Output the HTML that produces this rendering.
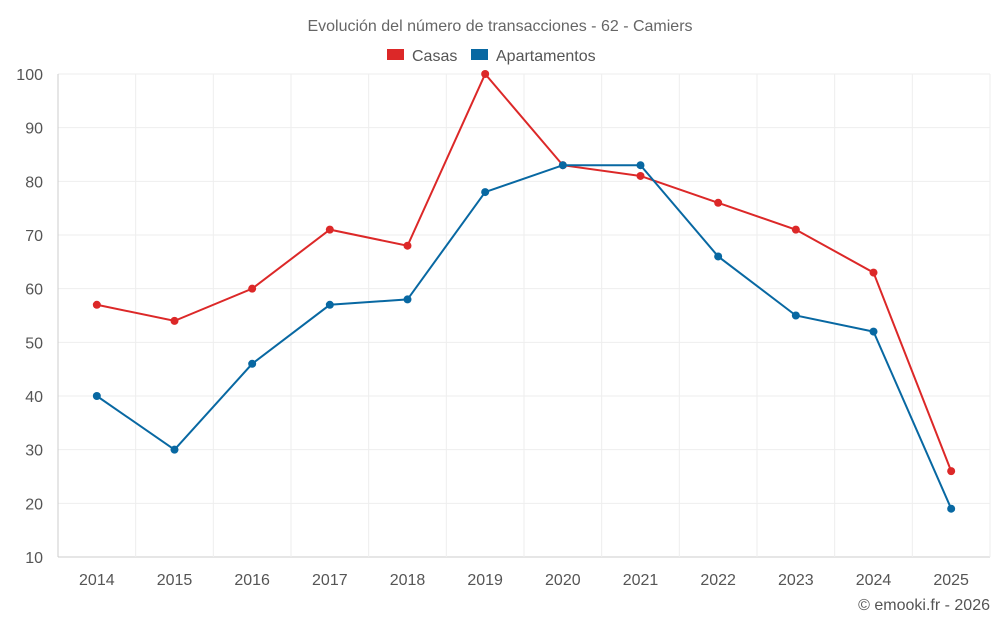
<!DOCTYPE html>
<html><head><meta charset="utf-8"><style>
body{margin:0;background:#fff;}
svg{display:block;font-family:"Liberation Sans",sans-serif;}
</style></head><body>
<svg id="chart" width="1000" height="625">
<text x="500" y="31" text-anchor="middle" font-size="16" fill="#666">Evolución del número de transacciones - 62 - Camiers</text>
<g>
<g><rect x="387" y="49" width="17" height="11" fill="#dc2828"/><text x="412" y="61" font-size="16" fill="#555">Casas</text></g>
<g><rect x="471" y="49" width="17" height="11" fill="#0868a2"/><text x="496" y="61" font-size="16" fill="#555">Apartamentos</text></g>
</g>
<g id="grid"></g><g id="axes"></g><g id="series"></g>
<text x="990" y="610" text-anchor="end" font-size="16" fill="#555">© emooki.fr - 2026</text>
</svg>
<script>
const categories=["2014","2015","2016","2017","2018","2019","2020","2021","2022","2023","2024","2025"];
const casas=[57,54,60,71,68,100,83,81,76,71,63,26];
const apartamentos=[40,30,46,57,58,78,83,83,66,55,52,19];
const yTicks=[10,20,30,40,50,60,70,80,90,100];
const NS="http://www.w3.org/2000/svg";
const L=58,R=990,T=74,B=557,yMin=10,yMax=100;
const bw=(R-L)/categories.length;
const x=i=>L+bw*(i+0.5);
const y=v=>B-(v-yMin)/(yMax-yMin)*(B-T);
function mk(tag,attrs,parent){const e=document.createElementNS(NS,tag);for(const k in attrs)e.setAttribute(k,attrs[k]);parent.appendChild(e);return e;}
const grid=document.getElementById('grid'),axes=document.getElementById('axes'),series=document.getElementById('series');
yTicks.forEach(t=>{
 const l=mk('line',{x1:L,x2:R,y1:y(t),y2:y(t),stroke:t===yMin?'#ccc':'#eee'},grid);
 
 
 const tx=mk('text',{x:L-15,y:y(t)+6,'text-anchor':'end','font-size':16,fill:'#555'},axes);
 tx.textContent=t;
 
 
});
for(let i=0;i<=categories.length;i++){
 const l=mk('line',{x1:L+bw*i,x2:L+bw*i,y1:T,y2:B,stroke:'#eee'},grid);
 
 
}
const yaxis=mk('line',{x1:L,x2:L,y1:T,y2:B,stroke:'#ccc'},axes);


categories.forEach((c,i)=>{
 const tx=mk('text',{x:x(i),y:585,'text-anchor':'middle','font-size':16,fill:'#555'},axes);
 tx.textContent=c;
 
 
});
function draw(vals,color,name){
 const p=mk('polyline',{points:vals.map((v,i)=>x(i)+','+y(v)).join(' '),fill:'none',stroke:color,'stroke-width':2},series);
 
 
 vals.forEach((v,i)=>{
  const c=mk('circle',{cx:x(i),cy:y(v),r:4,fill:color},series);
  
  
 });
}
draw(casas,'#dc2828','casas');
draw(apartamentos,'#0868a2','apartamentos');
</script>
</body></html>
